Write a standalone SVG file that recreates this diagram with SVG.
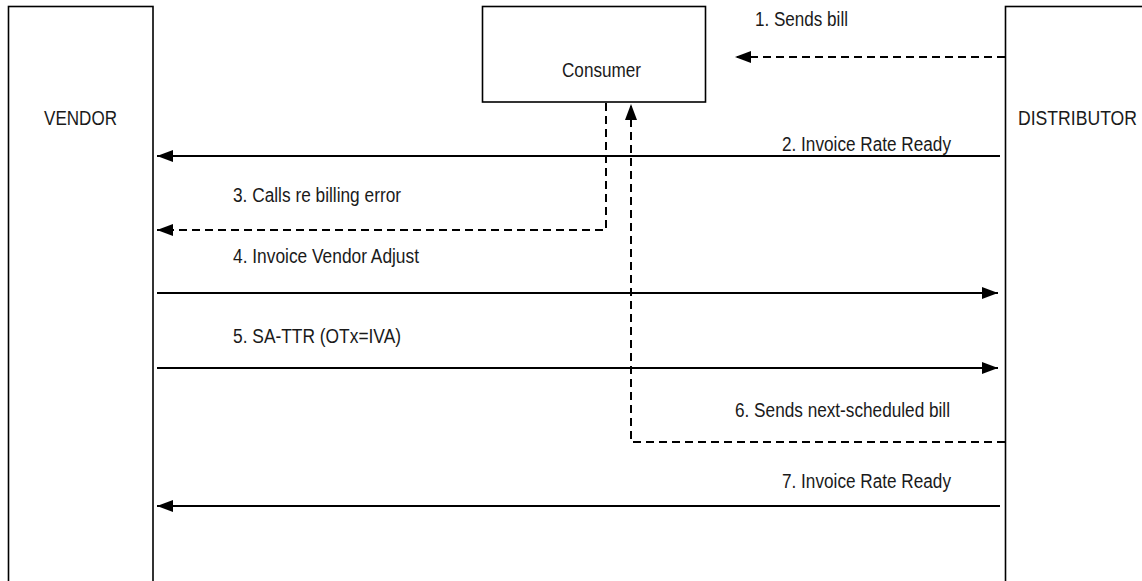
<svg xmlns="http://www.w3.org/2000/svg" width="1142" height="581" viewBox="0 0 1142 581">
<defs>
<style>
.box{fill:#fff;stroke:#000;stroke-width:1.6}
.ln{fill:none;stroke:#000;stroke-width:2}
.dash{stroke-dasharray:8 5}
text{font-family:"Liberation Sans",Arial,sans-serif;font-size:20px;fill:#1a1a1a}
</style>
<marker id="ah" markerWidth="16" markerHeight="12" refX="16" refY="6" orient="auto" markerUnits="userSpaceOnUse">
<path d="M0,0 L16,6 L0,12 Z" fill="#000"/>
</marker>
</defs>
<rect width="1142" height="581" fill="#fff"/>
<g id="vendor">
<rect class="box" x="8.5" y="6.5" width="144.5" height="590"/>
<text x="44" y="125" textLength="73" lengthAdjust="spacingAndGlyphs">VENDOR</text>
</g>
<g id="consumer">
<rect class="box" x="482.5" y="6.5" width="223" height="95.5"/>
<text x="562" y="77" textLength="79" lengthAdjust="spacingAndGlyphs">Consumer</text>
</g>
<g id="distributor">
<rect class="box" x="1005.5" y="6.5" width="150" height="590"/>
<text x="1018" y="125" textLength="119" lengthAdjust="spacingAndGlyphs">DISTRIBUTOR</text>
</g>
<g id="connectors">
<line class="ln dash" x1="1005" y1="57" x2="735" y2="57" marker-end="url(#ah)"/>
<text x="755" y="26" textLength="93" lengthAdjust="spacingAndGlyphs">1. Sends bill</text>
<line class="ln" x1="1000" y1="156" x2="157" y2="156" marker-end="url(#ah)"/>
<text x="782" y="151" textLength="169" lengthAdjust="spacingAndGlyphs">2. Invoice Rate Ready</text>
<polyline class="ln dash" points="606,103 606,230 157,230" marker-end="url(#ah)"/>
<text x="233" y="202" textLength="168" lengthAdjust="spacingAndGlyphs">3. Calls re billing error</text>
<line class="ln" x1="157" y1="293" x2="998" y2="293" marker-end="url(#ah)"/>
<text x="233" y="263" textLength="186" lengthAdjust="spacingAndGlyphs">4. Invoice Vendor Adjust</text>
<line class="ln" x1="157" y1="368" x2="998" y2="368" marker-end="url(#ah)"/>
<text x="233" y="343" textLength="168" lengthAdjust="spacingAndGlyphs">5. SA-TTR (OTx=IVA)</text>
<polyline class="ln dash" points="1005,442 631,442 631,104" marker-end="url(#ah)"/>
<text x="735" y="417" textLength="215" lengthAdjust="spacingAndGlyphs">6. Sends next-scheduled bill</text>
<line class="ln" x1="1000" y1="506" x2="157" y2="506" marker-end="url(#ah)"/>
<text x="782" y="488" textLength="169" lengthAdjust="spacingAndGlyphs">7. Invoice Rate Ready</text>
</g>
</svg>
